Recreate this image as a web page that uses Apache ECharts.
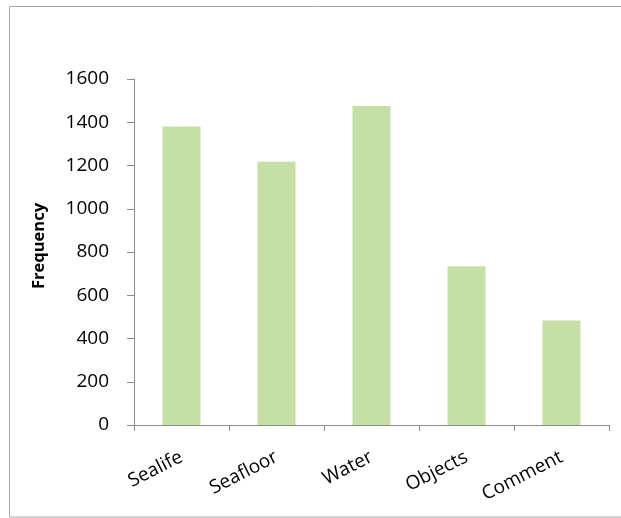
<!DOCTYPE html>
<html>
<head>
<meta charset="utf-8">
<script src="https://cdn.jsdelivr.net/npm/echarts@6/dist/echarts.min.js"></script>
<style>
  html, body { margin: 0; padding: 0; background: #ffffff; }
  #chart { width: 621px; height: 518px; }
</style>
</head>
<body>
<div id="chart"></div>
<script>
// Frequency of annotation categories
const categories = ['Sealife', 'Seafloor', 'Water', 'Objects', 'Comment'];
const frequency = [1380, 1217, 1475, 734, 483];
const yTicks = [0, 200, 400, 600, 800, 1000, 1200, 1400, 1600];

const chart = echarts.init(document.getElementById('chart'));
const font = '"Open Sans", "Liberation Sans", sans-serif';
const axisGray = '#8c8c8c';

chart.setOption({
  animation: false,
  backgroundColor: '#ffffff',
  graphic: [{
    // chart-area frame; its right edge runs past the canvas
    type: 'rect',
    shape: { x: 9.5, y: 6.5, width: 640, height: 510.5 },
    style: { fill: 'none', stroke: '#a6a6a6', lineWidth: 1 },
    silent: true
  }],
  grid: { left: 134, right: 12, top: 79, bottom: 93 },
  xAxis: {
    type: 'category',
    data: categories,
    axisLine: { lineStyle: { color: axisGray, width: 1 } },
    axisTick: { show: true, alignWithLabel: false, length: 6, lineStyle: { color: axisGray } },
    axisLabel: {
      rotate: 27,
      margin: 31,
      color: '#000',
      fontFamily: font,
      fontSize: 19
    }
  },
  yAxis: {
    type: 'value',
    min: yTicks[0],
    max: yTicks[yTicks.length - 1],
    interval: 200,
    name: 'Frequency',
    nameLocation: 'middle',
    nameRotate: 90,
    nameGap: 86,
    nameTextStyle: {
      fontFamily: font, fontSize: 16.5, fontWeight: 'bold', color: '#000',
      padding: [0, 0, 0, 12]
    },
    axisLine: { show: true, lineStyle: { color: axisGray, width: 1 } },
    axisTick: { show: true, length: 7, lineStyle: { color: axisGray } },
    splitLine: { show: false },
    axisLabel: {
      color: '#000',
      fontFamily: font,
      fontSize: 19,
      margin: 25,
      formatter: (v) => String(v)
    }
  },
  series: [{
    type: 'bar',
    data: frequency,
    barWidth: '40%',
    itemStyle: { color: '#c5e0a5' }
  }]
});
</script>
</body>
</html>
